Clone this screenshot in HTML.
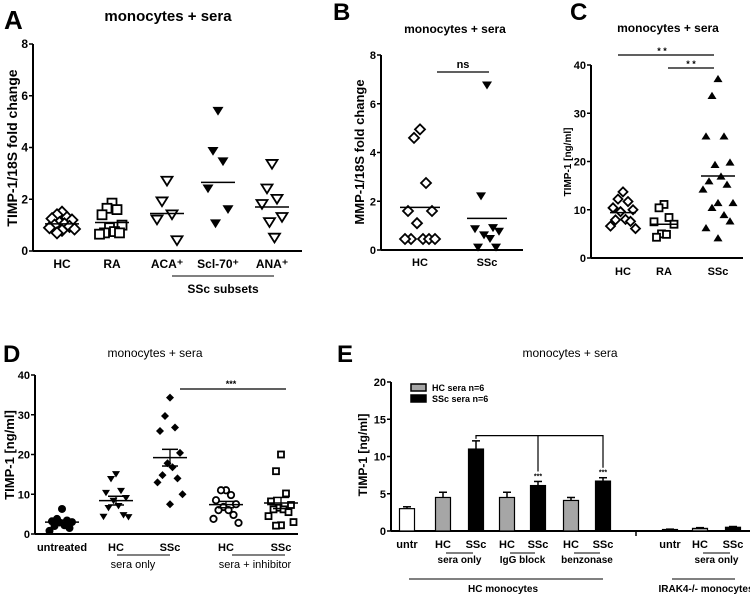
<!DOCTYPE html>
<html><head><meta charset="utf-8"><style>
html,body{margin:0;padding:0;background:#fff;}
svg{display:block;font-family:"Liberation Sans",Arial,sans-serif;font-weight:bold;}
.n{font-family:"Liberation Sans Narrow","Liberation Sans",sans-serif;}
</style></head><body>
<svg id="fig" width="750" height="594" viewBox="0 0 750 594" xmlns="http://www.w3.org/2000/svg">
<g id="static">
<text x="4" y="29" font-size="26">A</text>
<text x="168" y="21" font-size="15" text-anchor="middle">monocytes + sera</text>
<text transform="translate(17,148) rotate(-90)" font-size="14" text-anchor="middle">TIMP-1/18S fold change</text>
<line x1="172" y1="276" x2="274" y2="276" stroke="#000"/>
<text x="223" y="293" font-size="12" text-anchor="middle">SSc subsets</text>

<text x="333" y="20" font-size="24">B</text>
<text x="455" y="33" font-size="12" text-anchor="middle">monocytes + sera</text>
<text transform="translate(364,152) rotate(-90)" font-size="13" text-anchor="middle">MMP-1/18S fold change</text>

<text x="570" y="20" font-size="24">C</text>
<text x="668" y="32" font-size="12" text-anchor="middle">monocytes + sera</text>
<text transform="translate(571,162) rotate(-90)" font-size="10" text-anchor="middle">TIMP-1 [ng/ml]</text>

<text x="3" y="362" font-size="24">D</text>
<text x="155" y="357" font-size="12" font-weight="normal" text-anchor="middle">monocytes + sera</text>
<text transform="translate(14,455) rotate(-90)" font-size="13" text-anchor="middle">TIMP-1 [ng/ml]</text>
<line x1="117" y1="555" x2="170" y2="555" stroke="#000"/>
<text x="133" y="568" font-size="11" font-weight="normal" text-anchor="middle" class="n">sera only</text>
<line x1="232" y1="555" x2="285" y2="555" stroke="#000"/>
<text x="255" y="568" font-size="11" font-weight="normal" text-anchor="middle" class="n">sera + inhibitor</text>

<text x="337" y="362" font-size="24">E</text>
<text x="570" y="357" font-size="12" font-weight="normal" text-anchor="middle">monocytes + sera</text>
<text transform="translate(367,455) rotate(-90)" font-size="12" text-anchor="middle">TIMP-1 [ng/ml]</text>
</g>
<g id="plots"></g>
</svg>
<script>
// ---- Panel A data ----
var aCats = ["HC","RA","ACA\u207A","Scl-70\u207A","ANA\u207A"];
var aHC = [1.5,1.4,1.3,1.25,1.2,1.1,1.05,1.0,0.95,0.9,0.85,0.8,0.7];
var aRA = [1.85,1.65,1.6,1.4,1.0,0.9,0.75,0.7,0.7,0.65];
var aACA = [2.7,1.9,1.4,1.2,0.4];
var aScl = [5.4,3.85,3.45,2.4,1.6,1.05];
var aANA = [3.35,2.4,2.0,1.8,1.3,1.1,0.5];
var aMeans = [1.05,1.1,1.45,2.65,1.7];
var aTicks = [0,2,4,6,8];
// ---- Panel B data ----
var bCats = ["HC","SSc"];
var bHC = [4.95,4.6,2.75,1.6,1.6,1.1,0.45,0.45,0.45,0.45,0.45];
var bSSc = [6.75,2.2,0.9,0.85,0.75,0.6,0.45,0.1,0.1];
var bMeans = [1.75,1.3];
var bTicks = [0,2,4,6,8];
// ---- Panel C data ----
var cCats = ["HC","RA","SSc"];
var cHC = [13.7,12.2,11.7,10.4,10.0,9.6,8.0,7.9,7.6,6.6,6.1];
var cRA = [11.1,10.4,8.4,7.5,7.0,5.0,4.9,4.3];
var cSSc = [37.2,33.7,25.3,25.3,19.9,19.4,17.0,16.0,15.3,14.3,11.5,11.5,10.5,9.0,7.7,6.3,4.2];
var cMeans = [9.4,7.0,17.0];
var cTicks = [0,10,20,30,40];
// ---- Panel D data ----
var dCats = ["untreated","HC","SSc","HC","SSc"];
var dUntr = [6.3,3.8,3.4,3.2,3.0,2.9,2.2,2.0,1.5,0.8];
var dHC = [15.0,13.8,10.8,10.3,9.0,8.3,7.0,6.5,4.7,4.3,4.2];
var dSSc = [34.3,29.7,26.8,25.9,20.4,17.8,16.8,14.8,14.0,13.0,10.0,7.5];
var dHCi = [11.0,11.0,9.8,8.5,7.5,6.8,6.0,6.0,4.8,3.8,2.8];
var dSSci = [20.0,15.8,10.2,8.2,7.3,6.6,6.2,6.2,5.5,4.5,3.0,2.2,2.1];
var dMeans = [3.0,8.4,19.2,7.4,7.8];
var dSem = [0.5,1.1,2.1,0.8,1.4];
var dTicks = [0,10,20,30,40];
// ---- Panel E data ----
var eCats = ["untr","HC","SSc","HC","SSc","HC","SSc","","untr","HC","SSc"];
var eVals = [3.0,4.5,11.0,4.5,6.1,4.1,6.7,null,0.2,0.35,0.5];
var eErr = [0.25,0.7,1.1,0.7,0.55,0.4,0.45,null,0.05,0.1,0.1];
var eKind = ["w","g","k","g","k","g","k","","k","g","k"];
var eTicks = [0,5,10,15,20];

var NS="http://www.w3.org/2000/svg";
var root=document.getElementById('plots');
function el(t,a,p){var e=document.createElementNS(NS,t);for(var k in a)e.setAttribute(k,a[k]);(p||root).appendChild(e);return e;}
function txt(x,y,s,size,anchor,p,cls){var e=el('text',{x:x,y:y,'font-size':size,'text-anchor':anchor||'middle'},p);if(cls)e.setAttribute('class',cls);e.textContent=s;return e;}
function scale(v0,v1,p0,p1){return function(v){return p0+(v-v0)*(p1-p0)/(v1-v0);};}

function axes(g,x0,x1,yS,ticks,fs,cls){
  var a=el('line',{x1:x0,y1:yS(0),x2:x1,y2:yS(0),stroke:'#000','stroke-width':2},g);
  
  
  var b=el('line',{x1:x0,y1:yS(ticks[ticks.length-1]),x2:x0,y2:yS(0),stroke:'#000','stroke-width':2},g);
  
  
  ticks.forEach(function(t){
    el('line',{x1:x0-4,y1:yS(t),x2:x0,y2:yS(t),stroke:'#000','stroke-width':1.5},g);
    var l=txt(x0-5,yS(t)+4,String(t),fs,'end',g,cls);
    
    
  });
}
function marker(g,shape,x,y,s){
  var h=s/2,m;
  if(shape=='diamond')m=el('polygon',{points:(x)+','+(y-h)+' '+(x+h)+','+y+' '+x+','+(y+h)+' '+(x-h)+','+y,fill:'#fff',stroke:'#000','stroke-width':1.8},g);
  else if(shape=='fdiamond')m=el('polygon',{points:(x)+','+(y-h)+' '+(x+h)+','+y+' '+x+','+(y+h)+' '+(x-h)+','+y,fill:'#000'},g);
  else if(shape=='square')m=el('rect',{x:x-h+1,y:y-h+1,width:s-2,height:s-2,fill:'#fff',stroke:'#000','stroke-width':1.8},g);
  else if(shape=='tridown')m=el('polygon',{points:(x-h)+','+(y-h*0.8)+' '+(x+h)+','+(y-h*0.8)+' '+x+','+(y+h*0.8),fill:'#fff',stroke:'#000','stroke-width':1.8},g);
  else if(shape=='ftridown')m=el('polygon',{points:(x-h)+','+(y-h*0.8)+' '+(x+h)+','+(y-h*0.8)+' '+x+','+(y+h*0.8),fill:'#000'},g);
  else if(shape=='ftriup')m=el('polygon',{points:(x-h)+','+(y+h*0.8)+' '+(x+h)+','+(y+h*0.8)+' '+x+','+(y-h*0.8),fill:'#000'},g);
  else if(shape=='circle')m=el('circle',{cx:x,cy:y,r:h-0.8,fill:'#fff',stroke:'#000','stroke-width':1.8},g);
  else m=el('circle',{cx:x,cy:y,r:h,fill:'#000'},g);
  
  
}
var jit=[0,-1,1,-2,2,-0.5,0.5,-1.5,1.5,-2.5,2.5,0,-1,1,2,-2,0];
function scatter(g,vals,cx,yS,shape,s,spread){
  vals.forEach(function(v,i){marker(g,shape,cx+jit[i%jit.length]*spread,yS(v),s);});
}
function meanLine(g,cx,y,w){var l=el('line',{x1:cx-w,y1:y,x2:cx+w,y2:y,stroke:'#000','stroke-width':1.5},g);}
function catLabels(g,cats,xs,y,fs,cls){cats.forEach(function(c,i){var t=txt(xs[i],y,c,fs,'middle',g,cls);});}

// Panel A
(function(){
  var g=el('g',{});
  var yS=scale(0,8,251,44); var xs=[62,112,167,218,272];
  axes(g,33,302,yS,aTicks,12);
  var sets=[aHC,aRA,aACA,aScl,aANA],sh=['diamond','square','tridown','ftridown','tridown'];
  sets.forEach(function(s,i){scatter(g,s,xs[i],yS,sh[i],11,5);meanLine(g,xs[i],yS(aMeans[i]),17);});
  catLabels(g,aCats,xs,268,12);
})();
// Panel B
(function(){
  var g=el('g',{});
  var yS=scale(0,8,250,55); var xs=[420,487];
  axes(g,381,523,yS,bTicks,11);
  scatter(g,bHC,xs[0],yS,'diamond',10,6);scatter(g,bSSc,xs[1],yS,'ftridown',10,6);
  bMeans.forEach(function(m,i){meanLine(g,xs[i],yS(m),20);});
  catLabels(g,bCats,xs,266,11);
  el('line',{x1:437,y1:72,x2:489,y2:72,stroke:'#000','stroke-width':1.3},g);
  var t=txt(463,68,'ns',11,'middle',g);
})();
// Panel C
(function(){
  var g=el('g',{});
  var yS=scale(0,40,258,65); var xs=[623,664,718];
  axes(g,591,743,yS,cTicks,11);
  scatter(g,cHC,xs[0],yS,'diamond',9,5);scatter(g,cRA,xs[1],yS,'square',9,5);scatter(g,cSSc,xs[2],yS,'ftriup',9,6);
  cMeans.forEach(function(m,i){meanLine(g,xs[i],yS(m),i==2?17:13);});
  catLabels(g,cCats,xs,275,11);
  el('line',{x1:618,y1:55,x2:714,y2:55,stroke:'#000','stroke-width':1.2},g);
  el('line',{x1:668,y1:68,x2:714,y2:68,stroke:'#000','stroke-width':1.2},g);
  txt(662,54,'* *',9,'middle',g);txt(691,67,'* *',9,'middle',g);
})();
// Panel D
(function(){
  var g=el('g',{});
  var yS=scale(0,40,534,375); var xs=[62,116,170,226,281];
  axes(g,35,298,yS,dTicks,11,'n');
  var sets=[dUntr,dHC,dSSc,dHCi,dSSci],sh=['fcircle','ftridown','fdiamond','circle','square'];
  sets.forEach(function(s,i){
    scatter(g,s,xs[i],yS,sh[i],8,5);
    meanLine(g,xs[i],yS(dMeans[i]),17);
    meanLine(g,xs[i],yS(dMeans[i]+dSem[i]),8);meanLine(g,xs[i],yS(dMeans[i]-dSem[i]),8);
    el('line',{x1:xs[i],y1:yS(dMeans[i]+dSem[i]),x2:xs[i],y2:yS(dMeans[i]-dSem[i]),stroke:'#000','stroke-width':1.3},g);
  });
  catLabels(g,dCats,xs,551,11,'n');
  el('line',{x1:180,y1:389,x2:286,y2:389,stroke:'#000','stroke-width':1.2},g);
  txt(231,387,'***',9,'middle',g);
})();
// Panel E
(function(){
  var g=el('g',{});
  var yS=scale(0,20,531,382); var xs=[407,443,476,507,538,571,603,636,670,700,733];
  axes(g,391,750,yS,eTicks,11,'n');
  var cols={w:'#fff',g:'#a6a6a6',k:'#000'};
  eVals.forEach(function(v,i){
    if(v===null){el('line',{x1:xs[i],y1:531,x2:xs[i],y2:536,stroke:'#000','stroke-width':1.5},g);return;}
    var b=el('rect',{x:xs[i]-7.5,y:yS(v),width:15,height:yS(0)-yS(v),fill:cols[eKind[i]],stroke:'#000','stroke-width':1.2},g);
    
    
    var top=yS(v+eErr[i]);
    el('line',{x1:xs[i],y1:top,x2:xs[i],y2:yS(v),stroke:'#000','stroke-width':1.5},g);
    el('line',{x1:xs[i]-4,y1:top,x2:xs[i]+4,y2:top,stroke:'#000','stroke-width':1.5},g);
  });
  catLabels(g,eCats,xs,548,11,'n');
  el('polyline',{points:xs[2]+','+(yS(eVals[2]+eErr[2])-2)+' '+xs[2]+','+yS(12.8)+' '+xs[6]+','+yS(12.8)+' '+xs[6]+','+(yS(eVals[6]+eErr[6])-10),fill:'none',stroke:'#000','stroke-width':1.2},g);
  el('line',{x1:xs[4],y1:yS(12.8),x2:xs[4],y2:yS(eVals[4]+eErr[4])-10,stroke:'#000','stroke-width':1.2},g);
  txt(xs[4],yS(eVals[4]+eErr[4])-3,'***',7,'middle',g);txt(xs[6],yS(eVals[6]+eErr[6])-3,'***',7,'middle',g);
  [[xs[1],xs[2],'sera only'],[xs[3],xs[4],'IgG block'],[xs[5],xs[6],'benzonase'],[xs[9],xs[10],'sera only']].forEach(function(q){
    el('line',{x1:q[0]+3,y1:553,x2:q[1]-3,y2:553,stroke:'#000','stroke-width':1},g);
    txt((q[0]+q[1])/2,563,q[2],10,'middle',g,'n');
  });
  el('line',{x1:409,y1:579,x2:603,y2:579,stroke:'#000','stroke-width':1},g);
  txt(503,592,'HC monocytes',10,'middle',g,'n');
  el('line',{x1:672,y1:579,x2:735,y2:579,stroke:'#000','stroke-width':1},g);
  txt(706,592,'IRAK4-/- monocytes',10,'middle',g,'n');
  var l1=el('rect',{x:411,y:384,width:15,height:7,fill:'#a6a6a6',stroke:'#000','stroke-width':1.5},g);
  
  var l2=el('rect',{x:411,y:395,width:15,height:7,fill:'#000',stroke:'#000','stroke-width':1.5},g);
  
  txt(432,391,'HC sera n=6',9,'start',g,'n');txt(432,402,'SSc sera n=6',9,'start',g,'n');
})();
</script>
</body></html>
